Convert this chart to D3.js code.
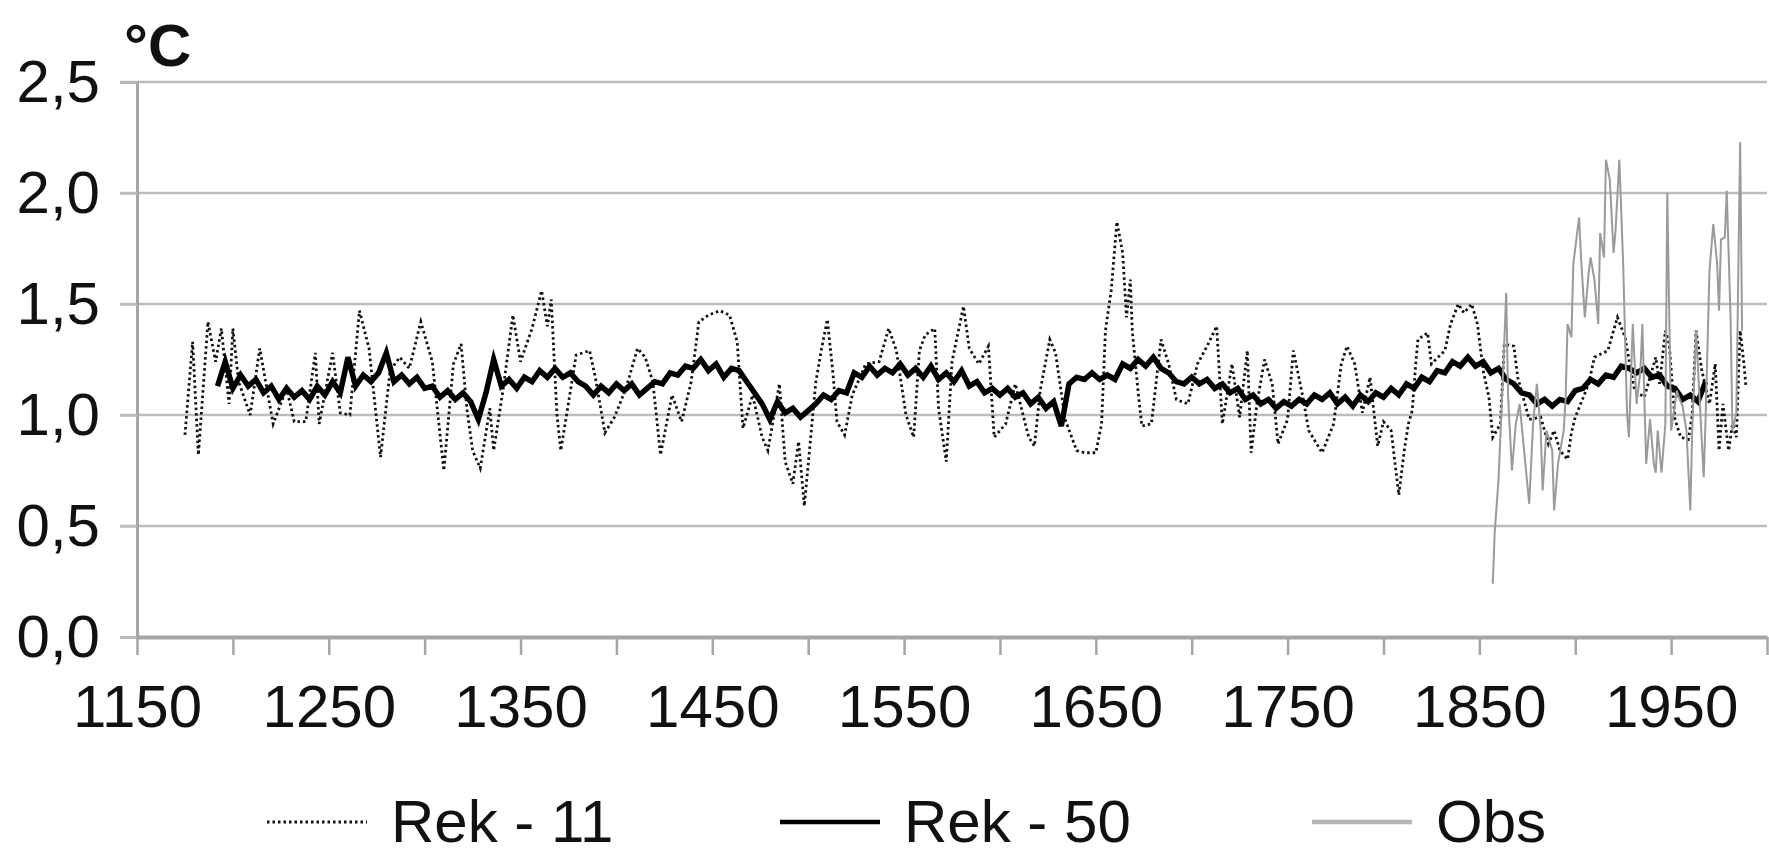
<!DOCTYPE html>
<html>
<head>
<meta charset="utf-8">
<script src="https://cdn.jsdelivr.net/npm/d3@7"></script>
<style>
  body { margin: 0; background: #fff; }
  svg { display: block; font-family: "Liberation Sans", Arial, sans-serif; }
</style>
</head>
<body>
<div id="chart"></div>
<script>
// Rek - 50: every 4 years from 1192
const rek50Start = 1192;
const rek50Step = 4;
const rek50Values = [
  1.13, 1.24, 1.12, 1.18, 1.13, 1.16, 1.10, 1.13, 1.07, 1.12,
  1.08, 1.11, 1.07, 1.13, 1.09, 1.15, 1.10, 1.26, 1.13, 1.18,
  1.15, 1.19, 1.28, 1.15, 1.18, 1.14, 1.17, 1.12, 1.13, 1.08,
  1.11, 1.07, 1.10, 1.06, 0.98, 1.10, 1.25, 1.13, 1.16, 1.12,
  1.17, 1.15, 1.20, 1.17, 1.21, 1.17, 1.19, 1.15, 1.13, 1.09,
  1.13, 1.10, 1.14, 1.11, 1.14, 1.09, 1.12, 1.15, 1.14, 1.19,
  1.18, 1.22, 1.21, 1.25, 1.20, 1.23, 1.17, 1.21, 1.20, 1.15,
  1.10, 1.05, 0.98, 1.06, 1.01, 1.03, 0.99, 1.02, 1.05, 1.09,
  1.07, 1.11, 1.10, 1.19, 1.17, 1.22, 1.18, 1.21, 1.19, 1.23,
  1.18, 1.21, 1.17, 1.22, 1.16, 1.19, 1.15, 1.20, 1.13, 1.15,
  1.10, 1.12, 1.09, 1.12, 1.08, 1.10, 1.05, 1.08, 1.03, 1.06,
  0.95, 1.14, 1.17, 1.16, 1.19, 1.16, 1.18, 1.16, 1.23, 1.21,
  1.25, 1.22, 1.26, 1.21, 1.19, 1.15, 1.14, 1.17, 1.14, 1.16,
  1.12, 1.14, 1.10, 1.12, 1.07, 1.09, 1.05, 1.07, 1.03, 1.06,
  1.04, 1.07, 1.05, 1.09, 1.07, 1.10, 1.05, 1.08, 1.04, 1.09,
  1.06, 1.10, 1.08, 1.12, 1.09, 1.14, 1.12, 1.17, 1.15, 1.20,
  1.19, 1.24, 1.22, 1.26, 1.22, 1.24, 1.19, 1.21, 1.16, 1.14,
  1.10, 1.09, 1.05, 1.07, 1.04, 1.07, 1.06, 1.11, 1.12, 1.16,
  1.14, 1.18, 1.17, 1.22, 1.21, 1.19, 1.21, 1.17, 1.18, 1.13,
  1.12, 1.07, 1.09, 1.06, 1.15
];

// Rek - 11: turning points [year, value]
const rek11 = [
  [1175, 0.91], [1179, 1.33], [1182, 0.82], [1187, 1.42], [1191, 1.24], [1194, 1.39],
  [1198, 1.05], [1200, 1.39], [1203, 1.15], [1209, 1.00], [1214, 1.30], [1221, 0.96],
  [1228, 1.12], [1232, 0.97], [1238, 0.97], [1243, 1.28], [1245, 0.96], [1252, 1.28],
  [1256, 1.01], [1261, 1.00], [1266, 1.47], [1271, 1.30], [1277, 0.81], [1282, 1.20],
  [1287, 1.26], [1292, 1.21], [1298, 1.42], [1304, 1.24], [1310, 0.75], [1315, 1.23],
  [1319, 1.32], [1322, 1.03], [1325, 0.84], [1329, 0.76], [1334, 1.03], [1336, 0.84],
  [1341, 1.12], [1346, 1.45], [1350, 1.24], [1356, 1.39], [1361, 1.56], [1364, 1.40],
  [1366, 1.52], [1369, 1.00], [1371, 0.84], [1374, 1.00], [1379, 1.27], [1386, 1.29],
  [1389, 1.17], [1394, 0.92], [1399, 0.99], [1405, 1.12], [1411, 1.30], [1415, 1.26],
  [1419, 1.15], [1423, 0.82], [1429, 1.09], [1434, 0.97], [1439, 1.15], [1443, 1.42],
  [1448, 1.45], [1454, 1.47], [1459, 1.45], [1463, 1.33], [1466, 0.94], [1471, 1.09],
  [1476, 0.90], [1479, 0.84], [1485, 1.14], [1488, 0.79], [1492, 0.69], [1495, 0.88],
  [1498, 0.59], [1501, 0.87], [1504, 1.15], [1507, 1.30], [1510, 1.43], [1513, 1.18],
  [1515, 0.97], [1519, 0.91], [1523, 1.09], [1530, 1.23], [1537, 1.24], [1542, 1.39],
  [1546, 1.29], [1551, 1.00], [1555, 0.90], [1558, 1.29], [1561, 1.36], [1566, 1.39],
  [1568, 1.03], [1572, 0.79], [1575, 1.24], [1581, 1.49], [1584, 1.30], [1589, 1.23],
  [1594, 1.31], [1597, 0.90], [1603, 0.96], [1608, 1.14], [1615, 0.90], [1618, 0.86],
  [1621, 1.11], [1626, 1.34], [1629, 1.28], [1634, 0.98], [1640, 0.84], [1644, 0.83],
  [1650, 0.83], [1653, 0.96], [1655, 1.38], [1658, 1.56], [1661, 1.87], [1664, 1.73],
  [1666, 1.44], [1668, 1.61], [1669, 1.38], [1672, 1.11], [1674, 0.95], [1679, 0.96],
  [1684, 1.34], [1688, 1.23], [1692, 1.07], [1698, 1.05], [1703, 1.23], [1708, 1.31],
  [1713, 1.40], [1716, 0.96], [1721, 1.23], [1725, 0.99], [1729, 1.29], [1731, 0.83],
  [1734, 1.05], [1738, 1.25], [1742, 1.14], [1745, 0.87], [1750, 0.98], [1753, 1.29],
  [1758, 1.08], [1761, 0.93], [1768, 0.83], [1774, 0.96], [1778, 1.23], [1781, 1.31],
  [1785, 1.23], [1789, 1.01], [1793, 1.17], [1797, 0.86], [1800, 0.97], [1804, 0.93],
  [1808, 0.64], [1811, 0.85], [1813, 0.96], [1815, 1.02], [1817, 1.25], [1818, 1.34],
  [1823, 1.37], [1825, 1.23], [1832, 1.29], [1835, 1.41], [1839, 1.50], [1842, 1.46],
  [1846, 1.50], [1849, 1.41], [1852, 1.20], [1855, 1.08], [1857, 0.90], [1861, 0.96],
  [1863, 1.32], [1868, 1.31], [1870, 1.17], [1876, 0.98], [1882, 0.99], [1886, 0.87],
  [1889, 0.93], [1892, 0.84], [1896, 0.80], [1898, 0.92], [1900, 0.99], [1907, 1.14],
  [1910, 1.26], [1917, 1.29], [1922, 1.44], [1926, 1.35], [1928, 1.25], [1931, 1.11],
  [1936, 1.08], [1942, 1.26], [1944, 1.14], [1947, 1.38], [1949, 1.32], [1952, 0.98],
  [1955, 0.90], [1959, 0.89], [1961, 1.00], [1963, 1.38], [1966, 1.20], [1970, 1.05],
  [1973, 1.23], [1975, 0.84], [1977, 1.05], [1980, 0.84], [1982, 0.96], [1984, 0.90],
  [1986, 1.38], [1988, 1.23], [1989, 1.13]
];

// Obs: observed series [year, value]
const obs = [
  [1857, 0.24], [1858, 0.47], [1860, 0.71], [1862, 1.11], [1864, 1.55], [1865, 1.08],
  [1867, 0.75], [1869, 0.96], [1871, 1.05], [1874, 0.78], [1876, 0.60], [1878, 0.96],
  [1880, 1.14], [1882, 0.93], [1883, 0.66], [1885, 0.93], [1888, 0.84], [1889, 0.57],
  [1891, 0.78], [1894, 0.93], [1895, 1.08], [1896, 1.41], [1898, 1.35], [1899, 1.68],
  [1902, 1.89], [1903, 1.71], [1905, 1.44], [1907, 1.64], [1908, 1.71], [1910, 1.61],
  [1912, 1.41], [1913, 1.82], [1915, 1.71], [1916, 2.15], [1918, 2.06], [1920, 1.73],
  [1921, 1.83], [1923, 2.15], [1925, 1.68], [1927, 1.01], [1928, 0.90], [1930, 1.41],
  [1932, 1.05], [1934, 1.20], [1935, 1.41], [1937, 0.78], [1939, 0.98], [1941, 0.78],
  [1942, 0.74], [1943, 0.93], [1945, 0.74], [1947, 0.96], [1948, 2.00], [1950, 0.93],
  [1953, 1.11], [1954, 1.08], [1956, 1.04], [1958, 0.93], [1960, 0.57], [1961, 0.93],
  [1963, 1.38], [1965, 1.05], [1967, 0.72], [1968, 0.99], [1970, 1.65], [1972, 1.86],
  [1974, 1.68], [1975, 1.47], [1976, 1.79], [1978, 1.80], [1979, 2.01], [1981, 1.44],
  [1982, 0.93], [1984, 1.01], [1986, 2.23], [1987, 1.38]
];

const yTicks = [0, 0.5, 1.0, 1.5, 2.0, 2.5];
const xTicks = d3.range(1150, 2001, 50);
const legendItems = ['Rek - 11', 'Rek - 50', 'Obs'];

const W = 1769, H = 854;
const svg = d3.select('#chart').append('svg')
    .attr('width', W)
    .attr('height', H);

const x = d3.scaleLinear().domain([1150, 2000]).range([137, 1767]);
const y = d3.scaleLinear().domain([0, 2.5]).range([637, 82]);

const fmt = v => d3.format('.1f')(v).replace('.', ',');

// horizontal grid
svg.append('g')
    .selectAll('line')
    .data(yTicks.filter(v => v > 0))
    .join('line')
    .attr('x1', 120)
    .attr('x2', x(2000))
    .attr('y1', d => y(d))
    .attr('y2', d => y(d))
    .attr('stroke', '#bdbdbd')
    .attr('stroke-width', 2.5);

// y axis
const yAxis = svg.append('g')
    .attr('transform', `translate(${x(1150)},0)`)
    .call(d3.axisLeft(y).tickValues(yTicks).tickSize(17).tickPadding(20).tickFormat(fmt));
yAxis.select('.domain').attr('stroke', '#a6a6a6').attr('stroke-width', 3);
yAxis.selectAll('.tick line').attr('stroke', '#bdbdbd').attr('stroke-width', 2.5);
yAxis.selectAll('.tick text')
    .attr('font-size', 60)
    .attr('font-family', '"Liberation Sans", Arial, sans-serif')
    .attr('fill', '#111');

// x axis
const xAxis = svg.append('g')
    .attr('transform', `translate(0,${y(0)})`)
    .call(d3.axisBottom(x).tickValues(xTicks).tickSize(18).tickSizeOuter(0)
        .tickFormat(d => (d - 1150) % 100 === 0 ? d : ''));
xAxis.select('.domain').attr('stroke', '#a6a6a6').attr('stroke-width', 4);
xAxis.selectAll('.tick line').attr('stroke', '#a6a6a6').attr('stroke-width', 2.5);
xAxis.selectAll('.tick text')
    .attr('y', 90)
    .attr('dy', 0)
    .attr('font-size', 60)
    .attr('font-family', '"Liberation Sans", Arial, sans-serif')
    .attr('fill', '#111');

// unit label
svg.append('text')
    .attr('x', 124)
    .attr('y', 66)
    .attr('font-size', 60)
    .attr('font-weight', 'bold')
    .attr('fill', '#111')
    .text('°C');

const line = d3.line().x(d => x(d[0])).y(d => y(d[1]));
const rek50 = rek50Values.map((v, i) => [rek50Start + i * rek50Step, v]);

const plot = svg.append('g');
plot.append('path')
    .attr('d', line(rek11))
    .attr('fill', 'none')
    .attr('stroke', '#111')
    .attr('stroke-width', 2.8)
    .attr('stroke-dasharray', '2.5,3');
plot.append('path')
    .attr('d', line(rek50))
    .attr('fill', 'none')
    .attr('stroke', '#000')
    .attr('stroke-width', 5.5)
    .attr('stroke-linejoin', 'miter');
plot.append('path')
    .attr('d', line(obs))
    .attr('fill', 'none')
    .attr('stroke', '#9a9a9a')
    .attr('stroke-width', 2);

// legend
const legendX = [267, 780, 1312];
const legendStyles = [
    { stroke: '#111', width: 2.8, dash: '2.5,3' },
    { stroke: '#000', width: 4.5, dash: null },
    { stroke: '#b5b5b5', width: 4.5, dash: null }
];
const legend = svg.append('g');
legendItems.forEach((name, i) => {
    const g = legend.append('g').attr('transform', `translate(${legendX[i]},822)`);
    g.append('line')
        .attr('x1', 0).attr('x2', 100)
        .attr('stroke', legendStyles[i].stroke)
        .attr('stroke-width', legendStyles[i].width)
        .attr('stroke-dasharray', legendStyles[i].dash);
    g.append('text')
        .attr('x', 124)
        .attr('y', 20)
        .attr('font-size', 60)
        .attr('fill', '#111')
        .text(name);
});
</script>
</body>
</html>
